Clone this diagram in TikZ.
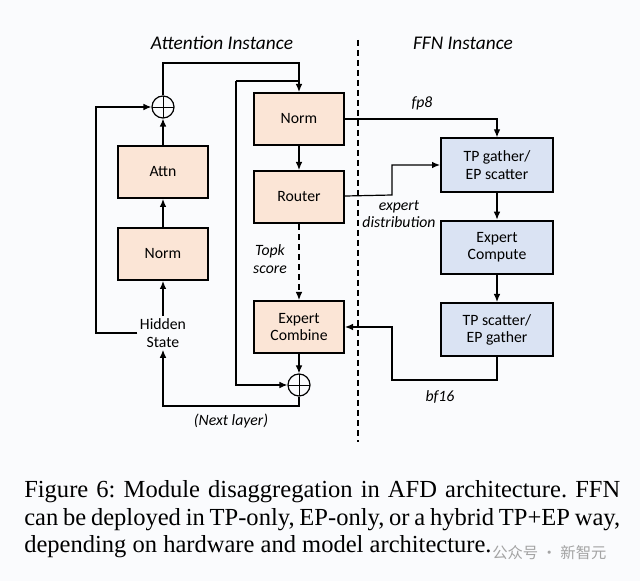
\documentclass[tikz,border=0pt]{standalone}
\usepackage{fontspec}
\setmainfont{Liberation Serif}
\newfontfamily\boxfont{Carlito}
\newfontfamily\cjk{Noto Sans CJK SC}
\usetikzlibrary{positioning,arrows.meta}
\definecolor{peach}{HTML}{FBE5D6}
\definecolor{paleblue}{HTML}{DAE3F3}
\definecolor{pagebg}{HTML}{FAFBFD}
\definecolor{markgray}{HTML}{A3A3A3}
\begin{document}
\frenchspacing
\begin{tikzpicture}[
    x=0.75pt, y=-0.75pt,
    >={Latex[length=6pt,width=5pt]},
    conn/.style={line width=0.9pt},
    box/.style={rectangle, draw=black, line width=1.5pt, text centered, align=center, font=\boxfont\fontsize{11.8}{14}\selectfont},
    attbox/.style={box, fill=peach, minimum width=67.5pt, minimum height=39pt},
    ffnbox/.style={box, fill=paleblue, minimum width=84pt, minimum height=40pt},
    plus/.style={circle, draw=black, line width=0.9pt, minimum size=16.5pt, inner sep=0pt,
        path picture={\draw[line width=0.6pt] (path picture bounding box.north) -- (path picture bounding box.south)
            (path picture bounding box.west) -- (path picture bounding box.east);}},
    lbl/.style={font=\boxfont\itshape\fontsize{11.8}{14}\selectfont, align=center, inner sep=1pt},
    title/.style={font=\boxfont\itshape\fontsize{14.5}{17}\selectfont},
    caption/.style={anchor=base west, inner sep=0pt, font=\fontsize{18.4}{20.6}\selectfont}
]
    % page
    \fill[pagebg] (0,0) rectangle (640,581);
    \useasboundingbox (0,0) rectangle (640,581);

    % titles and divider
    \node[title] (atttitle) at (222,43) {Attention Instance};
    \node[title] (ffntitle) at (463,43) {FFN Instance};
    \draw[dashed, line width=0.9pt, dash pattern=on 4.5pt off 3pt] (358,40) -- (358,442);

    % Attention instance: left column
    \node[attbox] (attn) at (163,172) {Attn};
    \node[attbox, below=21pt of attn] (norml) {Norm};
    \node[plus] (plus1) at (163,107) {};
    \node[box, draw=none, fill=none, line width=0pt, inner sep=2pt] (hs) at (163,333) {Hidden\\[-1pt]State};

    % Attention instance: MoE side
    \node[attbox] (normr) at (299,119) {Norm};
    \node[attbox, below=18pt of normr] (router) {Router};
    \node[attbox, below=57pt of router] (combine) {Expert\\[-1pt]Combine};
    \node[plus] (plus2) at (299,385) {};

    % FFN instance
    \node[ffnbox] (tpg) at (497,165) {TP gather/\\[-1pt]EP scatter};
    \node[ffnbox, below=20.25pt of tpg] (ec) {Expert\\[-1pt]Compute};
    \node[ffnbox, below=20.25pt of ec] (tps) {TP scatter/\\[-1pt]EP gather};

    % helper points
    \coordinate (loopl) at (96,333);
    \coordinate (top1) at (163,63);
    \coordinate (res2) at (236,81);
    \coordinate (nxt) at (163,406);
    \coordinate (rt) at (392,195);
    \coordinate (bfa) at (392,380);

    % left column flow
    \draw[conn, ->] (hs) -- (norml);
    \draw[conn, ->] (norml) -- (attn);
    \draw[conn, ->] (attn) -- (plus1);
    \draw[conn, ->] (hs.west) -- (loopl) |- (plus1);
    \draw[conn, ->] (plus1) -- (top1) -| (normr);
    \draw[conn] (res2) -- (res2 -| normr.north);
    \draw[conn, ->] (res2) |- (plus2);

    % MoE flow
    \draw[conn, ->] (normr) -- (router);
    \draw[conn, ->, dashed, dash pattern=on 4.5pt off 3pt] (router) -- (combine);
    \draw[conn, ->] (combine) -- (plus2);
    \draw[conn, ->] (plus2) |- (nxt) -- (hs);

    % cross-instance traffic
    \draw[conn, ->] (normr) -| (tpg);
    \draw[conn, ->] (router) -- (rt) |- (tpg);
    \draw[conn, ->] (tpg) -- (ec);
    \draw[conn, ->] (ec) -- (tps);
    \draw[conn, ->] (tps) |- (bfa) |- (combine);

    % labels
    \node[lbl] (fp) at (422,103) {fp8};
    \node[lbl] (dist) at (399,214) {expert\\[-1pt]distribution};
    \node[lbl] (topk) at (270,259) {Topk\\[-1pt]score};
    \node[lbl] (bf) at (440,397) {bf16};
    \node[lbl] (next) at (231,421) {(Next layer)};

    % caption
    \node[caption] (cap1) at (24,497) {\makebox[447pt][s]{Figure 6: Module disaggregation in AFD architecture. FFN}};
    \node[caption] (cap2) at (24,525) {\makebox[447pt][s]{can be deployed in TP-only, EP-only, or a hybrid TP+EP way,}};
    \node[caption] (cap3) at (24,552.5) {depending on hardware and model architecture.};
    \node[font=\cjk\fontsize{11.5}{14}\selectfont, text=markgray, anchor=west, inner sep=0pt] (mark) at (492,553) {公众号 · 新智元};
\end{tikzpicture}
\end{document}
